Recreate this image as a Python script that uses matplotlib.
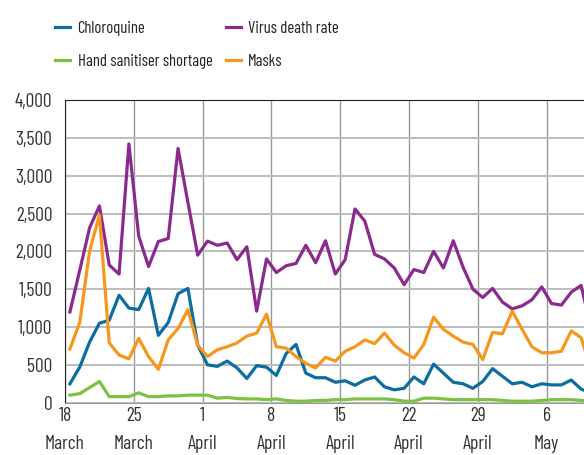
import matplotlib
matplotlib.use('Agg')
import matplotlib.pyplot as plt
import numpy as np

# daily search interest, 18 March to 10 May
chloroquine = [250, 470, 800, 1050, 1090, 1420, 1250, 1230, 1510, 890,
               1060, 1440, 1510, 760, 500, 480, 550, 460, 320, 490,
               470, 360, 650, 770, 390, 330, 330, 270, 290, 230,
               300, 340, 210, 170, 190, 340, 250, 510, 390, 270,
               250, 190, 280, 450, 350, 250, 270, 210, 250, 235,
               235, 300, 180, 130]
death_rate = [1200, 1750, 2310, 2600, 1820, 1700, 3420, 2200, 1800, 2130,
              2170, 3360, 2650, 1950, 2135, 2080, 2110, 1890, 2060, 1210,
              1900, 1720, 1810, 1840, 2080, 1850, 2140, 1700, 1890, 2560,
              2400, 1960, 1900, 1780, 1560, 1760, 1720, 2000, 1780, 2140,
              1790, 1500, 1390, 1510, 1330, 1240, 1280, 1360, 1530, 1310,
              1290, 1460, 1550, 1000]
sanitiser = [100, 120, 200, 280, 80, 80, 80, 130, 80, 80,
             90, 90, 100, 100, 100, 60, 70, 55, 50, 50,
             40, 50, 30, 20, 20, 30, 30, 40, 40, 50,
             50, 50, 50, 40, 20, 20, 60, 60, 50, 40,
             40, 40, 40, 40, 30, 20, 20, 20, 30, 40,
             40, 40, 30, 20]
masks = [710, 1060, 2000, 2480, 790, 630, 580, 850, 610, 440,
         830, 980, 1230, 760, 610, 700, 740, 790, 880, 920,
         1170, 740, 720, 610, 520, 460, 600, 550, 680, 740,
         830, 780, 920, 760, 660, 590, 770, 1130, 970, 880,
         800, 770, 570, 930, 910, 1210, 970, 740, 660, 660,
         680, 950, 860, 450]

tick_days = [0, 7, 14, 21, 28, 35, 42, 49]
tick_labels = ['18\nMarch', '25\nMarch', '1\nApril', '8\nApril',
               '15\nApril', '22\nApril', '29\nApril', '6\nMay']

plt.rcParams['font.family'] = ['Barlow Condensed', 'DejaVu Sans']

fig = plt.figure(figsize=(5.84, 4.55), dpi=100)
ax = fig.add_axes([65/584, 52.3/455, 519/584, 302.7/455])

x = np.arange(len(death_rate)) + 0.5
ax.plot(x, chloroquine, color='#0b6e9e', lw=2.3, label='Chloroquine', zorder=3)
ax.plot(x, sanitiser, color='#7cc243', lw=2.3, label='Hand sanitiser shortage', zorder=3)
ax.plot(x, death_rate, color='#8b2a8e', lw=2.3, label='Virus death rate', zorder=3)
ax.plot(x, masks, color='#f8961d', lw=2.3, label='Masks', zorder=3)

ax.set_xlim(0, 52.8)
ax.set_ylim(0, 4000)
ax.set_yticks(range(0, 4001, 500))
ax.set_yticklabels(['{:,}'.format(v) for v in range(0, 4001, 500)])
ax.set_xticks(tick_days)
ax.set_xticklabels(tick_labels, linespacing=1.75)
ax.tick_params(length=0, labelsize=14, colors='#333333')
ax.tick_params(axis='y', pad=9)
ax.tick_params(axis='x', pad=3)

ax.grid(axis='y', color='#bdbdbd', lw=1.4, zorder=0)
ax.grid(axis='x', color='#999999', lw=1.0, zorder=0)
ax.set_axisbelow(True)
ax.spines['right'].set_visible(False)
ax.spines['top'].set_color('#222222')
ax.spines['left'].set_color('#222222')
ax.spines['bottom'].set_color('#999999')

fig.legend(loc='upper left', bbox_to_anchor=(55/584, 1 - 21/455), ncol=2,
           frameon=False, fontsize=12, handlelength=0.9, handletextpad=0.45,
           columnspacing=0.8, labelspacing=1.1, borderpad=0, borderaxespad=0,
           labelcolor='#222222')

fig.savefig('out.png', dpi=100)
